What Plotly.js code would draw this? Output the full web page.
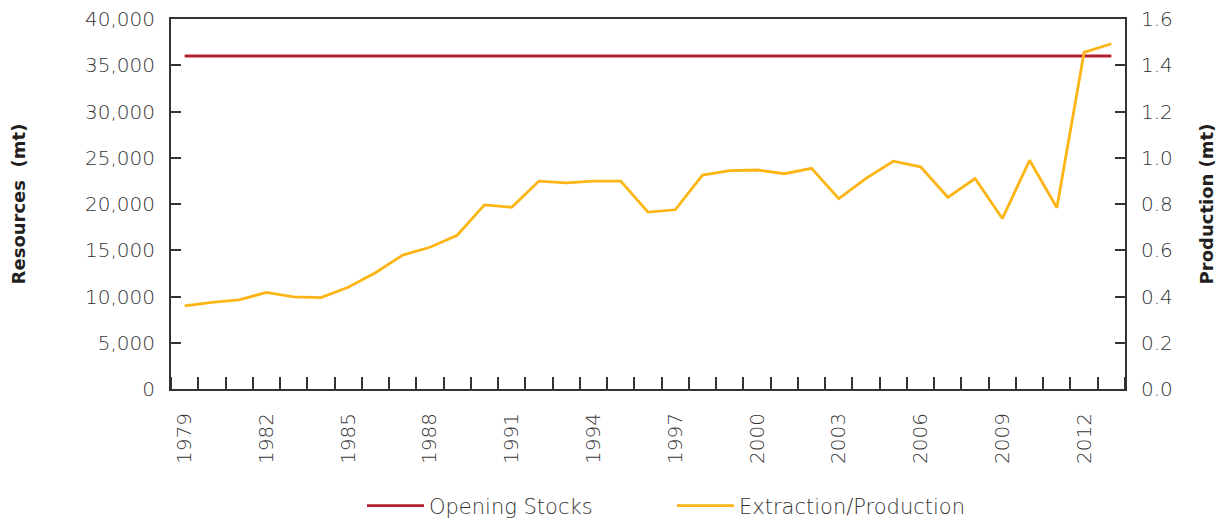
<!DOCTYPE html>
<html><head><meta charset="utf-8">
<script src="https://cdn.plot.ly/plotly-3.0.1.min.js"></script>
<style>html,body{margin:0;padding:0;background:#fff}#chart{width:1222px;height:520px}</style>
</head><body><div id="chart"></div>
<script>
const years = [1979,1980,1981,1982,1983,1984,1985,1986,1987,1988,1989,1990,1991,1992,1993,1994,1995,1996,1997,1998,1999,2000,2001,2002,2003,2004,2005,2006,2007,2008,2009,2010,2011,2012,2013];
const openingStocks = years.map(() => 36000);
const production = [0.359,0.375,0.385,0.418,0.398,0.395,0.440,0.503,0.579,0.613,0.665,0.796,0.786,0.899,0.891,0.899,0.899,0.765,0.775,0.925,0.944,0.947,0.931,0.954,0.823,0.911,0.985,0.961,0.829,0.910,0.737,0.989,0.784,1.456,1.493];
const tickYears = [1979,1982,1985,1988,1991,1994,1997,2000,2003,2006,2009,2012];
const leftTicks = [0,5000,10000,15000,20000,25000,30000,35000,40000];
const leftLabels = ['0','5,000','10,000','15,000','20,000','25,000','30,000','35,000','40,000'];
const rightTicks = [0,0.2,0.4,0.6,0.8,1.0,1.2,1.4,1.6];
const rightLabels = ['0.0','0.2','0.4','0.6','0.8','1.0','1.2','1.4','1.6'];

const FONT = '"DejaVu Sans", sans-serif';
const TICKFONT = {family: FONT, size: 20, color: '#333333', weight: 200};
const TITLEFONT = {family: FONT, size: 18, color: '#231f20', weight: 'bold'};
const data = [
  {x: years, y: openingStocks, name: 'Opening Stocks', type: 'scatter', mode: 'lines',
   line: {color: '#B01F2E', width: 2.8}, yaxis: 'y'},
  {x: years, y: production, name: 'Extraction/Production', type: 'scatter', mode: 'lines',
   line: {color: '#FDB515', width: 2.8}, yaxis: 'y2'}
];
const layout = {
  width: 1222, height: 520,
  margin: {l: 171, r: 97, t: 19, b: 131},
  paper_bgcolor: '#fff', plot_bgcolor: '#fff',
  font: {family: FONT, color: '#333333', size: 20},
  showlegend: true,
  legend: {orientation: 'h', xref: 'container', yref: 'container', x: 362/1222, xanchor: 'left', y: 14/520, yanchor: 'middle',
    itemwidth: 57, entrywidth: 238, entrywidthmode: 'pixels', font: {size: 21, color: '#333333', family: FONT, weight: 200}},
  xaxis: {range: [1978.5, 2013.5], tickmode: 'array', tickvals: tickYears, ticktext: tickYears.map(String),
    tickangle: -90, ticks: '', showgrid: false, zeroline: false, showline: true, linecolor: '#333', linewidth: 2,
    mirror: true, ticklabelstandoff: 14, automargin: false,
    minor: {tickmode: 'linear', tick0: 1979.5, dtick: 1, ticks: 'inside', ticklen: 12, tickcolor: '#333', tickwidth: 2, showgrid: false},
    tickfont: TICKFONT},
  yaxis: {range: [0, 40000], tickmode: 'array', tickvals: leftTicks, ticktext: leftLabels,
    ticks: 'inside', ticklen: 10, tickwidth: 2, tickcolor: '#333', showgrid: false, zeroline: false,
    showline: true, linecolor: '#333', linewidth: 2, ticklabelstandoff: 10, automargin: false,
    title: {text: 'Resources  (mt)', font: TITLEFONT, standoff: 55},
    tickfont: TICKFONT},
  yaxis2: {range: [0, 1.6], overlaying: 'y', side: 'right', tickmode: 'array', tickvals: rightTicks, ticktext: rightLabels,
    ticks: 'inside', ticklen: 10, tickwidth: 2, tickcolor: '#333', showgrid: false, zeroline: false,
    showline: true, linecolor: '#333', linewidth: 2, ticklabelstandoff: 10, automargin: false,
    title: {text: 'Production (mt)', font: TITLEFONT, standoff: 29},
    tickfont: TICKFONT}
};
Plotly.newPlot('chart', data, layout, {displayModeBar: false, staticPlot: true});
</script></body></html>
